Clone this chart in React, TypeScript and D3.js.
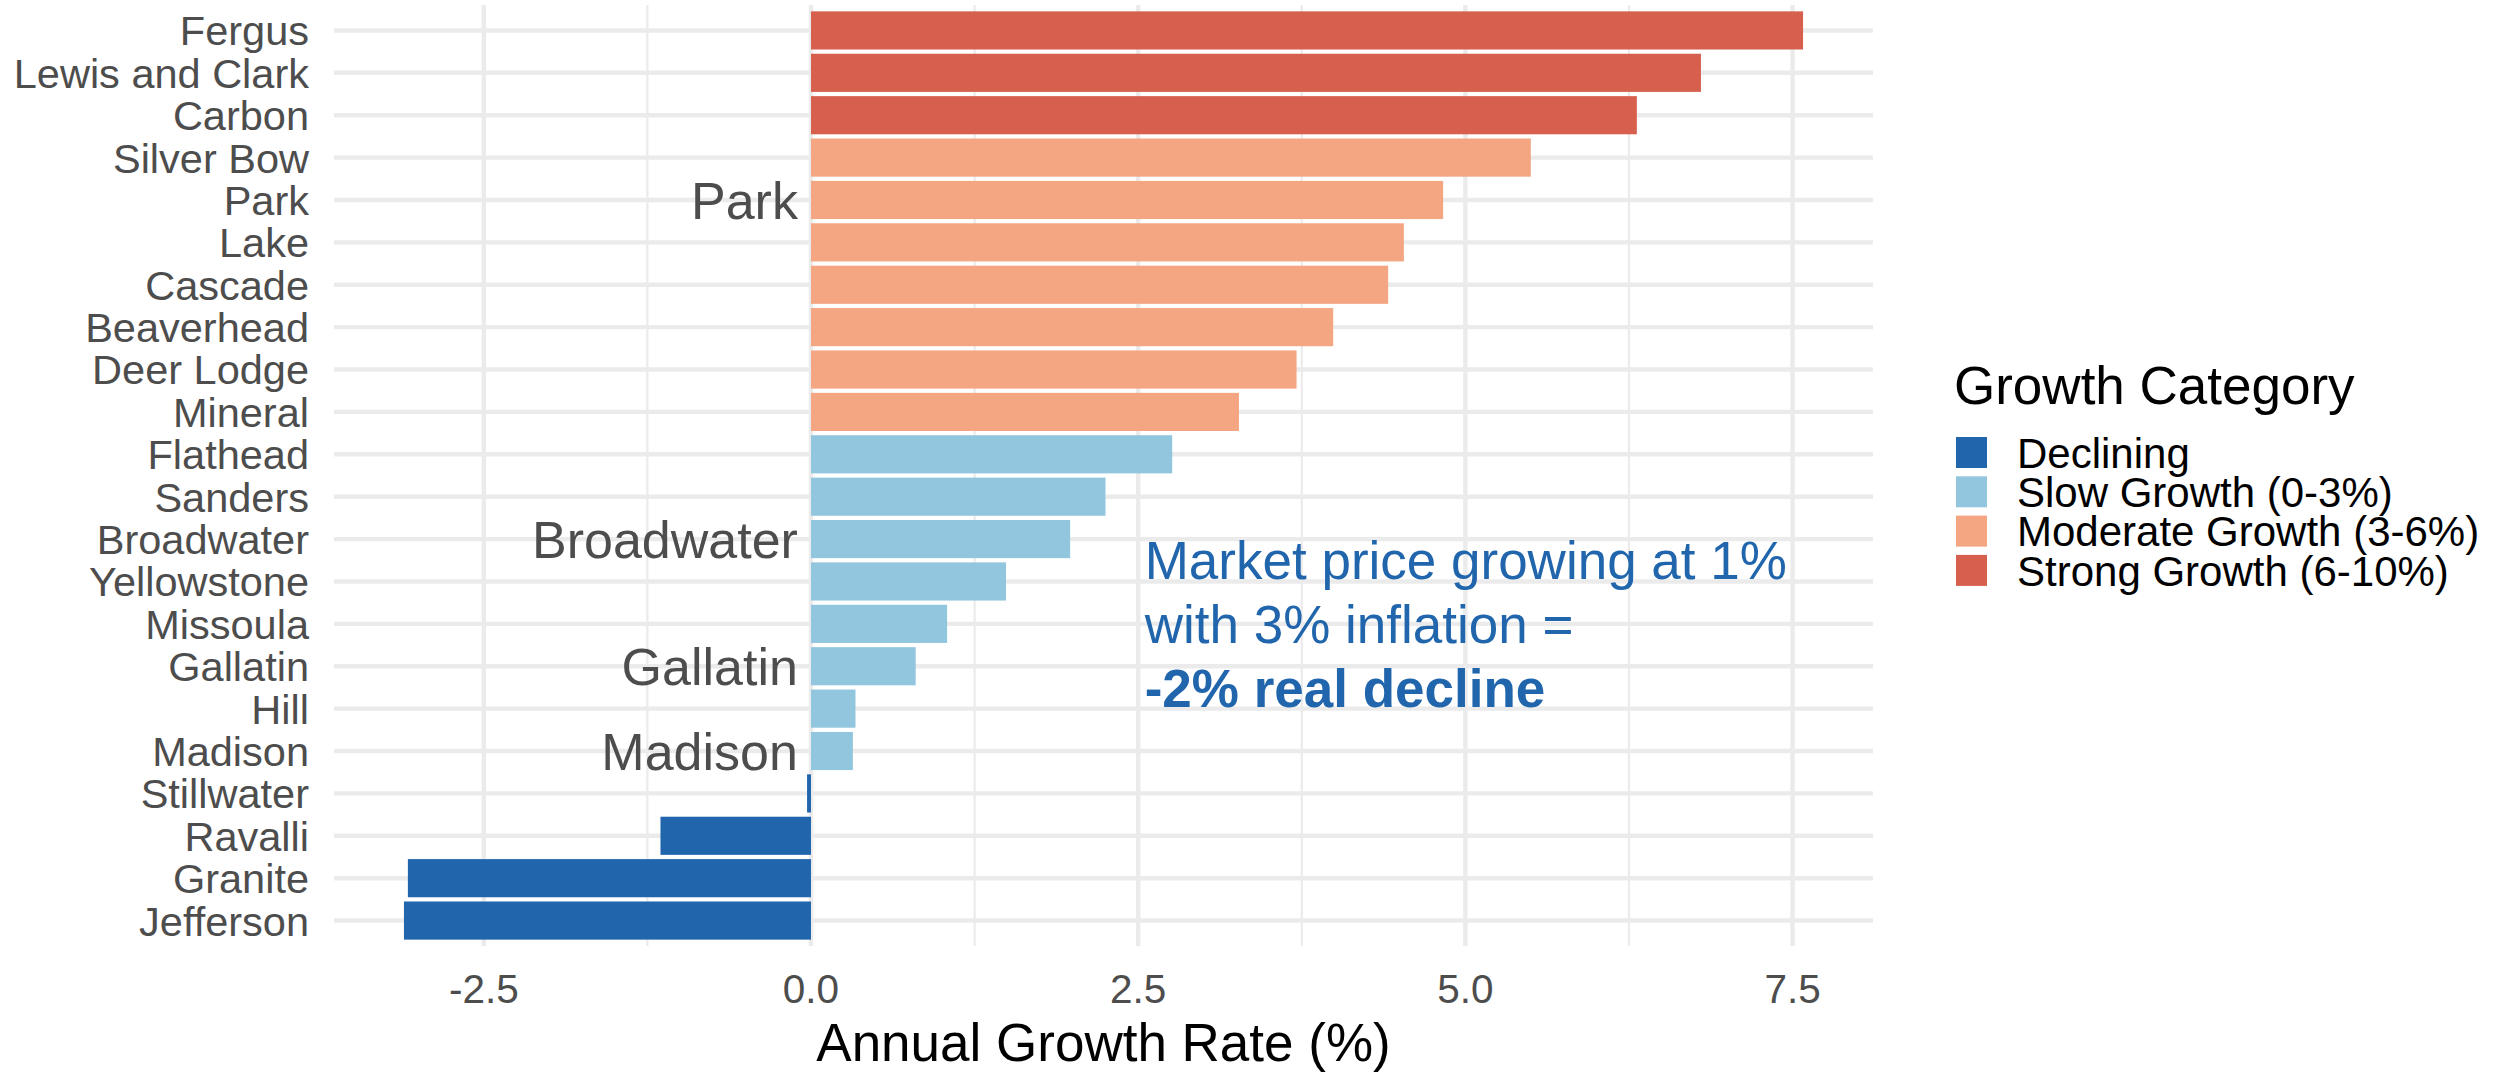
import React from 'react';
import * as d3 from 'd3';

// county growth rates, ordered top to bottom as plotted
const counties = [
  'Fergus', 'Lewis and Clark', 'Carbon', 'Silver Bow', 'Park', 'Lake', 'Cascade',
  'Beaverhead', 'Deer Lodge', 'Mineral', 'Flathead', 'Sanders', 'Broadwater',
  'Yellowstone', 'Missoula', 'Gallatin', 'Hill', 'Madison', 'Stillwater',
  'Ravalli', 'Granite', 'Jefferson',
];
const growthRates = [
  7.58, 6.80, 6.31, 5.50, 4.83, 4.53, 4.41,
  3.99, 3.71, 3.27, 2.76, 2.25, 1.98,
  1.49, 1.04, 0.80, 0.34, 0.32, -0.03,
  -1.15, -3.08, -3.11,
];

const categoryLabels = ['Declining', 'Slow Growth (0-3%)', 'Moderate Growth (3-6%)', 'Strong Growth (6-10%)'];
const categoryBreaks = [0, 3, 6];
const categoryColors = ['#2166AC', '#92C5DE', '#F4A582', '#D6604D'];

const highlighted = ['Park', 'Broadwater', 'Gallatin', 'Madison'];

const xTicks = [-2.5, 0, 2.5, 5, 7.5];
const xMinorTicks = [-1.25, 1.25, 3.75, 6.25];

const noteLines = ['Market price growing at 1%', 'with 3% inflation =', '-2% real decline'];
const noteCounty = 'Missoula';
const noteX = 2.55;

const FONT = '"Liberation Sans", Arial, Helvetica, sans-serif';
const GRID = '#EBEBEB';
const TEXT = '#4D4D4D';

const App = () => {
  const width = 2506;
  const height = 1077;
  const panel = { left: 334, right: 1873, top: 5, bottom: 946 };

  const lo = Math.min(0, d3.min(growthRates) as number);
  const hi = Math.max(0, d3.max(growthRates) as number);
  const pad = (hi - lo) * 0.05;
  const x = d3.scaleLinear().domain([lo - pad, hi + pad]).range([panel.left, panel.right]);

  const y = d3.scaleBand<string>()
    .domain(counties)
    .range([panel.top, panel.bottom])
    .paddingInner(0.1)
    .paddingOuter(0.15);
  const bw = y.bandwidth();
  const cy = (c: string) => (y(c) as number) + bw / 2;

  const color = d3.scaleThreshold<number, string>().domain(categoryBreaks).range(categoryColors);
  // plain hyphen for negatives, like the original
  const fmt = (v: number) => d3.format('.1f')(v).replace('\u2212', '-');

  const legendX = 1956;
  const legendTop = 437;
  const keyStep = 39.3;
  const keySize = 31;

  return (
    <svg width={width} height={height} style={{ position: 'absolute', left: 0, top: 0, background: '#fff' }} fontFamily={FONT}>
      {/* grid */}
      {xMinorTicks.map(t => (
        <line key={'mn' + t} x1={x(t)} x2={x(t)} y1={panel.top} y2={panel.bottom} stroke={GRID} strokeWidth={2.2} />
      ))}
      {xTicks.map(t => (
        <line key={'mj' + t} x1={x(t)} x2={x(t)} y1={panel.top} y2={panel.bottom} stroke={GRID} strokeWidth={4.4} />
      ))}
      {counties.map(c => (
        <line key={'h' + c} x1={panel.left} x2={panel.right} y1={cy(c)} y2={cy(c)} stroke={GRID} strokeWidth={4.4} />
      ))}

      {/* bars */}
      {counties.map((c, i) => {
        const v = growthRates[i];
        return (
          <rect key={'b' + c} x={Math.min(x(0), x(v))} y={y(c)} width={Math.abs(x(v) - x(0))} height={bw} fill={color(v)} />
        );
      })}

      {/* highlighted county labels */}
      {highlighted.map(c => (
        <text key={'hl' + c} x={x(-0.1)} y={cy(c)} dy="0.36em" textAnchor="end" fontSize={52} fill={TEXT}>{c}</text>
      ))}

      {/* annotation */}
      {noteLines.map((l, i) => (
        <text key={'n' + i} x={x(noteX)} y={cy(noteCounty) + (i - 1) * 64} dy="0.36em" fontSize={53}
          fill="#2166AC" fontWeight={i === 2 ? 'bold' : 'normal'}>{l}</text>
      ))}

      {/* y axis labels */}
      {counties.map(c => (
        <text key={'yl' + c} x={309} y={cy(c)} dy="0.36em" textAnchor="end" fontSize={41.5} fill={TEXT}>{c}</text>
      ))}

      {/* x axis labels */}
      {xTicks.map(t => (
        <text key={'xl' + t} x={x(t)} y={1003} textAnchor="middle" fontSize={40.5} fill={TEXT}>{fmt(t)}</text>
      ))}
      <text x={(panel.left + panel.right) / 2} y={1061} textAnchor="middle" fontSize={53} fill="#000">Annual Growth Rate (%)</text>

      {/* legend */}
      <text x={legendX - 2} y={404} fontSize={53} fill="#000">Growth Category</text>
      {categoryLabels.map((l, i) => (
        <g key={'lg' + i}>
          <rect x={legendX} y={legendTop + i * keyStep} width={keySize} height={keySize} fill={categoryColors[i]} />
          <text x={2017} y={legendTop + i * keyStep + keySize / 2} dy="0.36em" fontSize={42} fill="#000">{l}</text>
        </g>
      ))}
    </svg>
  );
};

export default App;
